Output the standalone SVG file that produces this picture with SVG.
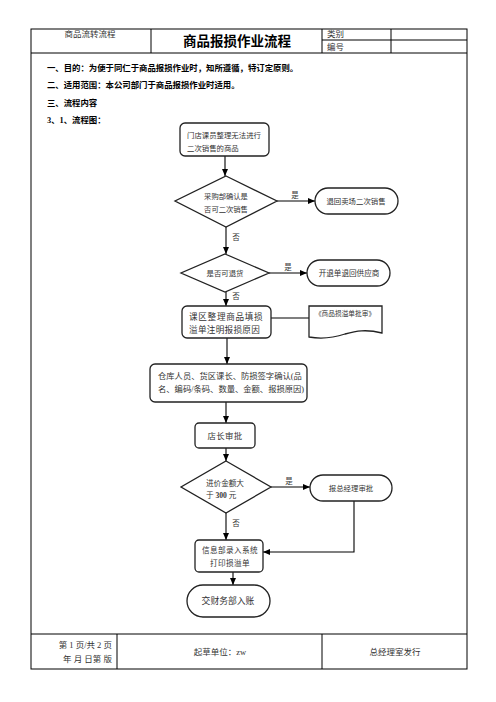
<svg xmlns="http://www.w3.org/2000/svg" width="496" height="702" viewBox="0 0 496 702">
<defs>
<marker id="ah" markerWidth="8" markerHeight="8" refX="7" refY="4" orient="auto" markerUnits="userSpaceOnUse">
<path d="M0,1 L7,4 L0,7 Z" fill="#000"/>
</marker>
<style>
.t{font-family:"Liberation Serif","Noto Sans CJK SC",serif;fill:#333}
.b{font-family:"Liberation Serif","Noto Sans CJK SC",serif;font-weight:bold;fill:#000}
.n{fill:#fff;stroke:#222;stroke-width:1.3}
.c{fill:none;stroke:#000;stroke-width:1.1}
.tb{fill:none;stroke:#000;stroke-width:1}
</style>
</defs>
<rect width="496" height="702" fill="#fff"/>
<g id="table">
<rect class="tb" x="31" y="29" width="436" height="640"/>
<line class="tb" x1="31" y1="53" x2="467" y2="53"/>
<line class="tb" x1="151" y1="29" x2="151" y2="53"/>
<line class="tb" x1="322" y1="29" x2="322" y2="53"/>
<line class="tb" x1="391" y1="29" x2="391" y2="53"/>
<line class="tb" x1="322" y1="40" x2="467" y2="40"/>
<line class="tb" x1="31" y1="634" x2="467" y2="634"/>
<line class="tb" x1="117" y1="634" x2="117" y2="669"/>
<line class="tb" x1="322" y1="634" x2="322" y2="669"/>
<text class="t" x="90" y="37" font-size="8.5" text-anchor="middle" fill="#555">商品流转流程</text>
<text class="b" x="237" y="46" font-size="13.5" text-anchor="middle">商品报损作业流程</text>
<text class="t" x="327" y="37" font-size="8.5">类别</text>
<text class="t" x="327" y="50" font-size="8.5">编号</text>
<text class="b" x="47" y="71" font-size="8.4">一、目的：为便于同仁于商品报损作业时，知所遵循，特订定原则。</text>
<text class="b" x="47" y="88" font-size="8.4">二、适用范围：本公司部门于商品报损作业时适用。</text>
<text class="b" x="47" y="106" font-size="8.4">三、流程内容</text>
<text class="b" x="47" y="123" font-size="8.4">3、1、流程图：</text>
<text class="t" x="112" y="648" font-size="8.5" text-anchor="end">第 1 页/共 2 页</text>
<text class="t" x="112" y="662" font-size="8.5" text-anchor="end">年  月  日第  版</text>
<text class="t" x="220" y="655" font-size="8.5" text-anchor="middle">起草单位：zw</text>
<text class="t" x="395" y="655" font-size="8.5" text-anchor="middle">总经理室发行</text>
</g>
<g id="connectors">
<line class="c" x1="225" y1="156" x2="225" y2="176" marker-end="url(#ah)"/>
<line class="c" x1="277" y1="201" x2="315" y2="201" marker-end="url(#ah)"/>
<text class="t" x="295" y="198" font-size="7.5" text-anchor="middle">是</text>
<line class="c" x1="226" y1="227" x2="226" y2="254" marker-end="url(#ah)"/>
<text class="t" x="236" y="240" font-size="7.5" text-anchor="middle">否</text>
<line class="c" x1="269" y1="273" x2="307" y2="273" marker-end="url(#ah)"/>
<text class="t" x="288" y="270" font-size="7.5" text-anchor="middle">是</text>
<line class="c" x1="226" y1="292" x2="226" y2="306" marker-end="url(#ah)"/>
<text class="t" x="236" y="299" font-size="7.5" text-anchor="middle">否</text>
<line class="c" x1="271" y1="318" x2="309" y2="318"/>
<line class="c" x1="227" y1="338" x2="227" y2="364" marker-end="url(#ah)"/>
<line class="c" x1="226" y1="402" x2="226" y2="423" marker-end="url(#ah)"/>
<line class="c" x1="226" y1="448" x2="226" y2="461" marker-end="url(#ah)"/>
<line class="c" x1="271" y1="487" x2="310" y2="487" marker-end="url(#ah)"/>
<text class="t" x="289" y="484" font-size="7.5" text-anchor="middle">是</text>
<line class="c" x1="226" y1="513" x2="226" y2="540" marker-end="url(#ah)"/>
<text class="t" x="236" y="526" font-size="7.5" text-anchor="middle">否</text>
<polyline class="c" points="354,501 354,552 263,552" marker-end="url(#ah)"/>
<line class="c" x1="233" y1="572" x2="233" y2="585" marker-end="url(#ah)"/>
</g>
<g id="n1">
<rect class="n" x="180" y="123" width="89" height="33" rx="5"/>
<text class="t" x="187" y="138" font-size="7.4">门店课员整理无法进行</text>
<text class="t" x="187" y="151" font-size="7.4">二次销售的商品</text>
</g>
<g id="d1">
<polygon class="n" points="226,176 277,201 226,227 175,201"/>
<text class="t" x="226" y="199" font-size="7.3" text-anchor="middle">采购部确认是</text>
<text class="t" x="226" y="212" font-size="7.3" text-anchor="middle">否可二次销售</text>
</g>
<g id="t1">
<rect class="n" x="315" y="188" width="83" height="26" rx="13"/>
<text class="t" x="356" y="204" font-size="7.4" text-anchor="middle">退回卖场二次销售</text>
</g>
<g id="d2">
<polygon class="n" points="225,254 269,273 225,292 181,273"/>
<text class="t" x="225" y="276" font-size="7.4" text-anchor="middle">是否可退货</text>
</g>
<g id="t2">
<rect class="n" x="307" y="260" width="83" height="26" rx="13"/>
<text class="t" x="349" y="276" font-size="7.6" text-anchor="middle">开退单退回供应商</text>
</g>
<g id="n3">
<rect class="n" x="182" y="306" width="89" height="32" rx="5"/>
<text class="t" x="189" y="320" font-size="8.6" letter-spacing="0.7">课区整理商品填损</text>
<text class="t" x="189" y="333" font-size="8.6" letter-spacing="0.3">溢单注明报损原因</text>
</g>
<g id="doc">
<path class="n" stroke-width="1" d="M309,306 H382 V333 C366,329 356,331 345,334 C330,339 320,339 309,337 Z"/>
<text class="t" x="345" y="316" font-size="6.7" text-anchor="middle">《商品损溢单批审》</text>
</g>
<g id="n4">
<rect class="n" x="150" y="364" width="157" height="38" rx="5"/>
<text class="t" x="158" y="379" font-size="8.3">仓库人员、货区课长、防损签字确认(品</text>
<text class="t" x="158" y="392" font-size="8.3">名、编码/条码、数量、金额、报损原因)</text>
</g>
<g id="n5">
<rect class="n" x="195" y="423" width="60" height="25" rx="4"/>
<text class="t" x="225" y="439" font-size="8.4" letter-spacing="0.4" text-anchor="middle">店长审批</text>
</g>
<g id="d3">
<polygon class="n" points="226,461 271,487 226,513 181,487"/>
<text class="t" x="206" y="486" font-size="7.6">进价金额大</text>
<text class="t" x="206" y="498" font-size="7.6">于 <tspan font-weight="bold">300</tspan> 元</text>
</g>
<g id="t3">
<rect class="n" x="310" y="475" width="82" height="26" rx="13"/>
<text class="t" x="351" y="491" font-size="7.4" text-anchor="middle">报总经理审批</text>
</g>
<g id="n6">
<rect class="n" x="195" y="540" width="68" height="32" rx="4"/>
<text class="t" x="230" y="553" font-size="7.6" letter-spacing="0.4" text-anchor="middle">信息部录入系统</text>
<text class="t" x="230" y="566" font-size="7.6" letter-spacing="0.4" text-anchor="middle">打印损溢单</text>
</g>
<g id="t4">
<rect class="n" x="187" y="585" width="83" height="32" rx="16"/>
<text class="t" x="228" y="604" font-size="8.8" text-anchor="middle">交财务部入账</text>
</g>
</svg>
